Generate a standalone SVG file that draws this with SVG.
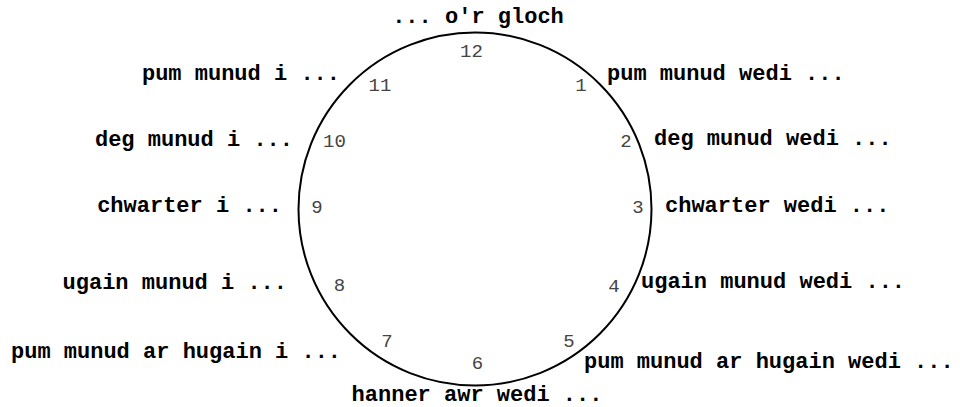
<svg xmlns="http://www.w3.org/2000/svg" width="960" height="407" viewBox="0 0 960 407">
<style>
.lbl{font-family:"Liberation Mono","Courier New",monospace;font-weight:bold;font-size:22px;fill:#000}
.num{font-family:"Liberation Mono","Courier New",monospace;font-size:19px;fill:#444;text-anchor:middle}
.face{fill:#fff;stroke:#000;stroke-width:2}
</style>
<rect width="960" height="407" fill="#fff"/>
<g id="clock">
<circle class="face" cx="475" cy="209" r="176.5"/>
<text class="num" x="471.5" y="57">12</text>
<text class="num" x="581" y="91">1</text>
<text class="num" x="626" y="147">2</text>
<text class="num" x="638" y="213">3</text>
<text class="num" x="614" y="292">4</text>
<text class="num" x="569" y="347">5</text>
<text class="num" x="477.5" y="369">6</text>
<text class="num" x="387" y="347">7</text>
<text class="num" x="339.5" y="291">8</text>
<text class="num" x="317" y="213">9</text>
<text class="num" x="334.5" y="147">10</text>
<text class="num" x="380" y="91">11</text>
</g>
<g id="edges"></g>
<g id="n-oclock"><text class="lbl" x="478" y="23" text-anchor="middle">... o'r gloch</text></g>
<g id="n-5past"><text class="lbl" x="607" y="80">pum munud wedi ...</text></g>
<g id="n-10past"><text class="lbl" x="654" y="145">deg munud wedi ...</text></g>
<g id="n-15past"><text class="lbl" x="665" y="212">chwarter wedi ...</text></g>
<g id="n-20past"><text class="lbl" x="641" y="288">ugain munud wedi ...</text></g>
<g id="n-25past"><text class="lbl" x="584" y="368">pum munud ar hugain wedi ...</text></g>
<g id="n-half"><text class="lbl" x="477" y="401" text-anchor="middle">hanner awr wedi ...</text></g>
<g id="n-25to"><text class="lbl" x="11" y="358">pum munud ar hugain i ...</text></g>
<g id="n-20to"><text class="lbl" x="287" y="289" text-anchor="end">ugain munud i ...</text></g>
<g id="n-15to"><text class="lbl" x="282" y="212" text-anchor="end">chwarter i ...</text></g>
<g id="n-10to"><text class="lbl" x="293" y="146" text-anchor="end">deg munud i ...</text></g>
<g id="n-5to"><text class="lbl" x="340" y="80" text-anchor="end">pum munud i ...</text></g>
</svg>
